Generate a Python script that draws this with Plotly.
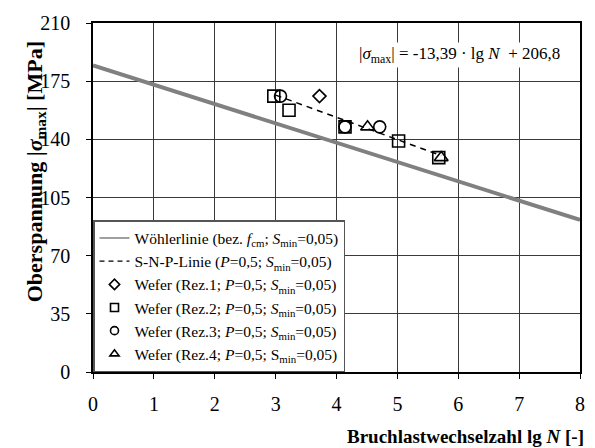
import plotly.graph_objects as go

# Wöhler line (endpoints)
woehler_x = [0, 8]
woehler_y = [184.5, 91.5]

# S-N-P line: |smax| = -13.39 lgN + 206.8
snp_x = [3.0, 5.72]
snp_slope = -13.39
snp_intercept = 206.8
snp_y = [snp_slope * x + snp_intercept for x in snp_x]

rez1_x = [3.72]
rez1_y = [166]
rez2_x = [2.97, 3.22, 4.14, 5.02, 5.68]
rez2_y = [166, 157.5, 147.5, 139, 129]
rez3_x = [3.08, 4.14, 4.71]
rez3_y = [166, 147.5, 147.5]
rez4_x = [4.51, 5.72]
rez4_y = [147.5, 129]

legend_names = [
    "Wöhlerlinie (bez. <i>f</i><sub>cm</sub>; <i>S</i><sub>min</sub>=0,05)",
    "S-N-P-Linie (<i>P</i>=0,5; <i>S</i><sub>min</sub>=0,05)",
    "Wefer (Rez.1; <i>P</i>=0,5; <i>S</i><sub>min</sub>=0,05)",
    "Wefer (Rez.2; <i>P</i>=0,5; <i>S</i><sub>min</sub>=0,05)",
    "Wefer (Rez.3; <i>P</i>=0,5; <i>S</i><sub>min</sub>=0,05)",
    "Wefer (Rez.4; <i>P</i>=0,5; S<sub>min</sub>=0,05)",
]

FONT = "Liberation Serif"

fig = go.Figure()
# data traces (not in legend)
fig.add_trace(go.Scatter(x=woehler_x, y=woehler_y, mode="lines", showlegend=False,
                         line=dict(color="#808080", width=4)))
fig.add_trace(go.Scatter(x=snp_x, y=snp_y, mode="lines", showlegend=False,
                         line=dict(color="black", width=1.5, dash="6px,5px")))
mk_line = dict(color="black", width=1.6)
fig.add_trace(go.Scatter(x=rez1_x, y=rez1_y, mode="markers", showlegend=False,
                         marker=dict(symbol="diamond", color="rgba(0,0,0,0)", size=10, line=mk_line)))
fig.add_trace(go.Scatter(x=rez2_x, y=rez2_y, mode="markers", showlegend=False,
                         marker=dict(symbol="square", color="rgba(0,0,0,0)", size=12, line=mk_line)))
fig.add_trace(go.Scatter(x=rez3_x, y=rez3_y, mode="markers", showlegend=False,
                         marker=dict(symbol="circle", color="rgba(0,0,0,0)", size=12, line=mk_line)))
fig.add_trace(go.Scatter(x=rez4_x, y=rez4_y, mode="markers", showlegend=False,
                         marker=dict(symbol="triangle-up", color="rgba(0,0,0,0)", size=12, line=mk_line)))

# legend entries (smaller symbols like the reference)
fig.add_trace(go.Scatter(x=[None], y=[None], mode="lines", name=legend_names[0],
                         line=dict(color="#808080", width=1.5)))
fig.add_trace(go.Scatter(x=[None], y=[None], mode="lines", name=legend_names[1],
                         line=dict(color="black", width=1.2, dash="5px,4px")))
leg_syms = ["diamond", "square", "circle", "triangle-up"]
for nm, sym in zip(legend_names[2:], leg_syms):
    fig.add_trace(go.Scatter(x=[None], y=[None], mode="markers", name=nm,
                             marker=dict(symbol=sym, color="white", size=8,
                                         line=dict(color="black", width=1.6))))

fig.add_annotation(x=6.02, y=191, xref="x", yref="y", showarrow=False,
                   text="|<i>σ</i><sub>max</sub>| = -13,39 · lg <i>N</i>  + 206,8",
                   font=dict(family=FONT, size=17, color="black"), bgcolor="white")
fig.add_annotation(x=1.012, y=-0.185, xref="paper", yref="paper", xanchor="right", yanchor="middle",
                   showarrow=False, text="<b>Bruchlastwechselzahl lg <i>N</i> [-]</b>",
                   font=dict(family=FONT, size=19, color="black"))
fig.add_annotation(x=-0.15, y=0.575, xref="paper", yref="paper", textangle=-90,
                   showarrow=False, text="<b>Oberspannung |<i>σ</i><sub>max</sub>| [MPa]</b>",
                   font=dict(family=FONT, size=22, color="black"))

axis_common = dict(showline=True, linecolor="black", linewidth=1.5, mirror=True,
                   showgrid=True, gridcolor="#3a3a3a", gridwidth=1,
                   ticks="outside", ticklen=5, tickcolor="black", zeroline=False,
                   tickfont=dict(family=FONT, size=20, color="black"))
fig.update_xaxes(range=[0, 8], dtick=1, tick0=0, ticklabelstandoff=8, **axis_common)
fig.update_yaxes(range=[0, 210], dtick=35, tick0=0, ticklabelstandoff=12, **axis_common)

fig.update_layout(
    width=595, height=448,
    margin=dict(l=93, r=10, t=23, b=76),
    plot_bgcolor="white", paper_bgcolor="white",
    font=dict(family=FONT, size=15.5, color="black"),
    legend=dict(x=0, y=0, xanchor="left", yanchor="bottom",
                bgcolor="white", bordercolor="#555555", borderwidth=1.5,
                font=dict(family=FONT, size=15.5, color="black"),
                tracegroupgap=0, itemwidth=30),
    showlegend=True,
)

fig.write_html("out.html")
